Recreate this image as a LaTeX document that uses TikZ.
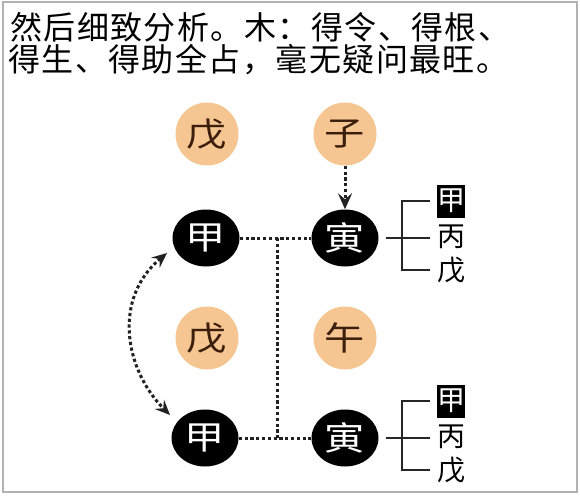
\documentclass[tikz,border=0pt]{standalone}
\usepackage{fontspec}
\usepackage{graphicx}
\newfontfamily\cjk{Noto Sans CJK SC}
\newfontfamily\cjkwide[LetterSpace=4.5]{Noto Sans CJK SC}
\usetikzlibrary{arrows.meta,calc,shapes.geometric}
\definecolor{peach}{HTML}{F6C692}
\definecolor{peachtext}{HTML}{3B1E0C}
\definecolor{dotgray}{HTML}{222222}
\newcommand{\widechar}[1]{\scalebox{1.22}[1]{#1}}
\begin{document}
\begin{tikzpicture}[x=1pt,y=-1pt,
  pillar/.style={ellipse, fill=black, minimum width=67pt, minimum height=57pt, inner sep=0pt,
    text=white, font=\cjk\fontsize{33}{33}\selectfont},
  stem/.style={circle, fill=peach, minimum size=63pt, inner sep=0pt,
    text=peachtext, font=\cjk\fontsize{33}{33}\selectfont},
  hid/.style={inner sep=0pt, minimum width=28pt, minimum height=33pt,
    font=\cjk\fontsize{28}{28}\selectfont},
  hidbox/.style={hid, fill=black, text=white},
  link/.style={dotgray, line width=3pt, dash pattern=on 3.2pt off 2.6pt},
  brk/.style={line width=2pt, black!85}
]
\useasboundingbox (0,0) rectangle (580,500);
\fill[white] (0,0) rectangle (580,500);
\draw[gray!60, line width=1.5pt] (3,2) rectangle (577,492);

% title
\node[anchor=west, inner sep=0pt, font=\cjkwide\fontsize{32}{32}\selectfont] (t1) at (10,27.5) {然后细致分析。木：得令、得根、};
\node[anchor=west, inner sep=0pt, font=\cjkwide\fontsize{32}{32}\selectfont] (t2) at (8,59.5) {得生、得助全占，毫无疑问最旺。};

% stems and branches
\node[stem] (wuA) at (207,134) {\widechar{戊}};
\node[stem] (zi) at (345,134) {\widechar{子}};
\node[pillar] (jiaA) at (206,238) {\widechar{甲}};
\node[pillar] (yinA) at (345,238) {\widechar{寅}};
\node[stem] (wuB) at (207,338) {\widechar{戊}};
\node[stem] (wuC) at (345,338) {\widechar{午}};
\node[pillar] (jiaB) at (205,438) {\widechar{甲}};
\node[pillar] (yinB) at (345,438) {\widechar{寅}};

% hidden stems
\node[hidbox] (hjA) at (451,201) {甲};
\node[hid] (hbA) at (451,237) {丙};
\node[hid] (hwA) at (451,270) {戊};
\node[hidbox] (hjB) at (451,401) {甲};
\node[hid] (hbB) at (451,437) {丙};
\node[hid] (hwB) at (451,470) {戊};

% connectors
\coordinate (jA) at (277,238);
\coordinate (jB) at (277,438);
\draw[link] (jiaA) -- (yinA);
\draw[link] (jiaB) -- (yinB);
\draw[link] (jA) -- (jB);
\draw[link, -{Stealth[length=16pt,width=14pt,inset=6pt]}] (zi) -- (yinA);
\draw[link, {Stealth[length=15pt,width=13pt,inset=5.5pt]}-{Stealth[length=15pt,width=13pt,inset=5.5pt]}] ($(jiaA)+(-39,15)$) .. controls +(-55,46) and +(-45,-45) .. ($(jiaB)+(-35,-23)$);

% brackets
\draw[brk] ($(hjA.west)+(-7,0)$) -- ++(-28,0) |- ($(hwA.west)+(-7,0)$);
\draw[brk, shorten <=7pt, shorten >=7pt] (yinA.east) -- (yinA.east -| hbA.west);
\draw[brk] ($(hjB.west)+(-7,0)$) -- ++(-28,0) |- ($(hwB.west)+(-7,0)$);
\draw[brk, shorten <=7pt, shorten >=7pt] (yinB.east) -- (yinB.east -| hbB.west);
\end{tikzpicture}
\end{document}
